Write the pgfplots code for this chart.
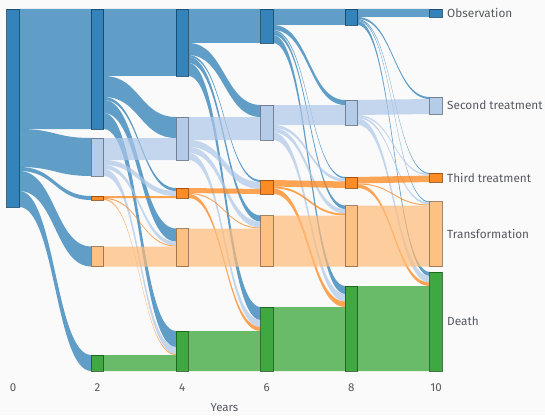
\documentclass[border=0pt]{standalone}
\usepackage{pgfplots}
\pgfplotsset{compat=1.18}
\usepackage{fontspec}
\setmainfont{Fira Sans}
\usetikzlibrary{backgrounds}
\definecolor{bg}{RGB}{250,250,250}
\definecolor{cdb}{RGB}{31,119,180}
\definecolor{clb}{RGB}{174,199,232}
\definecolor{co}{RGB}{255,127,14}
\definecolor{clo}{RGB}{255,187,120}
\definecolor{cg}{RGB}{44,160,44}
\definecolor{txt}{RGB}{85,90,95}
% flow: {x source edge}{x target edge}{src top}{src bottom}{tgt top}{tgt bottom}{colour}
\newcommand\flow[7]{\fill[#7,fill opacity=0.7] (axis cs:#1,#3) .. controls +(36pt,0pt) and +(-36pt,0pt) .. (axis cs:#2,#5) -- (axis cs:#2,#6) .. controls +(-36pt,0pt) and +(36pt,0pt) .. (axis cs:#1,#4) -- cycle;}
% node: {left}{right}{top}{bottom}{colour}
\newcommand\nd[5]{\addplot[fill=#5,fill opacity=0.9,draw=#5!55!black,draw opacity=0.8,line width=0.8pt] coordinates {(#1,#3) (#2,#3) (#2,#4) (#1,#4)} -- cycle;}
\begin{document}
\begin{tikzpicture}[show background rectangle, inner frame sep=0pt, background rectangle/.style={fill=bg,draw=none}]
\begin{axis}[
 width=545pt, height=415pt, scale only axis,
 xmin=-0.307, xmax=12.577, ymin=0, ymax=415, y dir=reverse,
 axis line style={draw=none}, tick style={draw=none},
 ytick=\empty, xtick={0,2,4,6,8,10},
 xticklabel style={anchor=center, yshift=27pt, font=\fontsize{11.5}{12}\selectfont, text=txt},
 /pgf/number format/assume math mode=true,
 clip=false, no markers,
]
% ---- year 0 -> 2
\flow{0.148}{1.852}{9}{129}{9}{129}{cdb}
\flow{0.148}{1.852}{129}{167}{138}{176}{cdb}
\flow{0.148}{1.852}{167}{171}{196}{200}{cdb}
\flow{0.148}{1.852}{171}{191}{246.5}{266.5}{cdb}
\flow{0.148}{1.852}{191}{207}{355}{371}{cdb}
% ---- year 2 -> 4
\flow{2.148}{3.852}{9}{76}{9}{76}{cdb}
\flow{2.148}{3.852}{76}{97}{117}{138}{cdb}
\flow{2.148}{3.852}{97}{100}{188}{191}{cdb}
\flow{2.148}{3.852}{100}{113}{228.5}{241.5}{cdb}
\flow{2.148}{3.852}{113}{129}{331}{347}{cdb}
\flow{2.148}{3.852}{138}{160}{138}{160}{clb}
\flow{2.148}{3.852}{160}{165}{191}{196}{clb}
\flow{2.148}{3.852}{165}{169}{241.5}{245.5}{clb}
\flow{2.148}{3.852}{169}{176}{347}{354}{clb}
\flow{2.148}{3.852}{196}{198}{196}{198}{co}
\flow{2.148}{3.852}{198}{199}{245.5}{246.5}{co}
\flow{2.148}{3.852}{199}{200}{354}{355}{co}
\flow{2.148}{3.852}{246.5}{266.5}{246.5}{266.5}{clo}
\flow{2.148}{3.852}{355}{371}{355}{371}{cg}
% ---- year 4 -> 6
\flow{4.148}{5.852}{9}{43}{9}{43}{cdb}
\flow{4.148}{5.852}{43}{55}{105}{117}{cdb}
\flow{4.148}{5.852}{55}{57}{180}{182}{cdb}
\flow{4.148}{5.852}{57}{63}{215.5}{221.5}{cdb}
\flow{4.148}{5.852}{63}{76}{307}{320}{cdb}
\flow{4.148}{5.852}{117}{140}{117}{140}{clb}
\flow{4.148}{5.852}{140}{147}{182}{189}{clb}
\flow{4.148}{5.852}{147}{153}{221.5}{227.5}{clb}
\flow{4.148}{5.852}{153}{160}{320}{327}{clb}
\flow{4.148}{5.852}{188}{193}{189}{194}{co}
\flow{4.148}{5.852}{193}{194}{227.5}{228.5}{co}
\flow{4.148}{5.852}{194}{198}{327}{331}{co}
\flow{4.148}{5.852}{228.5}{266.5}{228.5}{266.5}{clo}
\flow{4.148}{5.852}{331}{371}{331}{371}{cg}
% ---- year 6 -> 8
\flow{6.148}{7.852}{9}{25}{9}{25}{cdb}
\flow{6.148}{7.852}{25}{30}{100}{105}{cdb}
\flow{6.148}{7.852}{30}{31.5}{177}{178.5}{cdb}
\flow{6.148}{7.852}{31.5}{35}{205.5}{209}{cdb}
\flow{6.148}{7.852}{35}{43}{286}{294}{cdb}
\flow{6.148}{7.852}{105}{125}{105}{125}{clb}
\flow{6.148}{7.852}{125}{128}{178.5}{181.5}{clb}
\flow{6.148}{7.852}{128}{132.5}{209}{213.5}{clb}
\flow{6.148}{7.852}{132.5}{140}{294}{301.5}{clb}
\flow{6.148}{7.852}{180}{186.5}{181.5}{188}{co}
\flow{6.148}{7.852}{186.5}{188.5}{213.5}{215.5}{co}
\flow{6.148}{7.852}{188.5}{194}{301.5}{307}{co}
\flow{6.148}{7.852}{215.5}{266.5}{215.5}{266.5}{clo}
\flow{6.148}{7.852}{307}{371}{307}{371}{cg}
% ---- year 8 -> 10
\flow{8.148}{9.852}{9}{17}{9}{17}{cdb}
\flow{8.148}{9.852}{17}{19}{97}{99}{cdb}
\flow{8.148}{9.852}{19}{20}{173}{174}{cdb}
\flow{8.148}{9.852}{20}{21}{201.5}{202.5}{cdb}
\flow{8.148}{9.852}{21}{25}{272}{276}{cdb}
\flow{8.148}{9.852}{100}{115}{99}{114}{clb}
\flow{8.148}{9.852}{115}{116.5}{174}{175.5}{clb}
\flow{8.148}{9.852}{116.5}{118.5}{202.5}{204.5}{clb}
\flow{8.148}{9.852}{118.5}{125}{276}{282.5}{clb}
\flow{8.148}{9.852}{177}{183.5}{175.5}{182}{co}
\flow{8.148}{9.852}{183.5}{184.5}{204.5}{205.5}{co}
\flow{8.148}{9.852}{184.5}{188}{282.5}{286}{co}
\flow{8.148}{9.852}{205.5}{266.5}{205.5}{266.5}{clo}
\flow{8.148}{9.852}{286}{371}{286}{371}{cg}
% ---- nodes
\nd{-0.148}{0.148}{9}{207}{cdb}
\nd{1.852}{2.148}{9}{129}{cdb}
\nd{1.852}{2.148}{138}{176}{clb}
\nd{1.852}{2.148}{196}{200}{co}
\nd{1.852}{2.148}{246.5}{266.5}{clo}
\nd{1.852}{2.148}{355}{371}{cg}
\nd{3.852}{4.148}{9}{76}{cdb}
\nd{3.852}{4.148}{117}{160}{clb}
\nd{3.852}{4.148}{188}{198}{co}
\nd{3.852}{4.148}{228.5}{266.5}{clo}
\nd{3.852}{4.148}{331}{371}{cg}
\nd{5.852}{6.148}{9}{43}{cdb}
\nd{5.852}{6.148}{105}{140}{clb}
\nd{5.852}{6.148}{180}{194}{co}
\nd{5.852}{6.148}{215.5}{266.5}{clo}
\nd{5.852}{6.148}{307}{371}{cg}
\nd{7.852}{8.148}{9}{25}{cdb}
\nd{7.852}{8.148}{100}{125}{clb}
\nd{7.852}{8.148}{177}{188}{co}
\nd{7.852}{8.148}{205.5}{266.5}{clo}
\nd{7.852}{8.148}{286}{371}{cg}
\nd{9.852}{10.148}{9}{17}{cdb}
\nd{9.852}{10.148}{97}{114}{clb}
\nd{9.852}{10.148}{173}{182}{co}
\nd{9.852}{10.148}{201.5}{266.5}{clo}
\nd{9.852}{10.148}{272}{371}{cg}
% ---- labels
\begin{scope}[every node/.style={anchor=west,inner sep=0pt,text=txt,font=\fontsize{11.8}{13}\selectfont}]
\node at (axis cs:10.26,13) {Observation};
\node at (axis cs:10.26,105.5) {Second treatment};
\node at (axis cs:10.26,177.5) {Third treatment};
\node at (axis cs:10.26,233.5) {Transformation};
\node at (axis cs:10.26,321.5) {Death};
\end{scope}
\node[text=txt,font=\fontsize{11.5}{12}\selectfont] at (axis cs:5,408) {Years};
\end{axis}
\end{tikzpicture}
\end{document}
